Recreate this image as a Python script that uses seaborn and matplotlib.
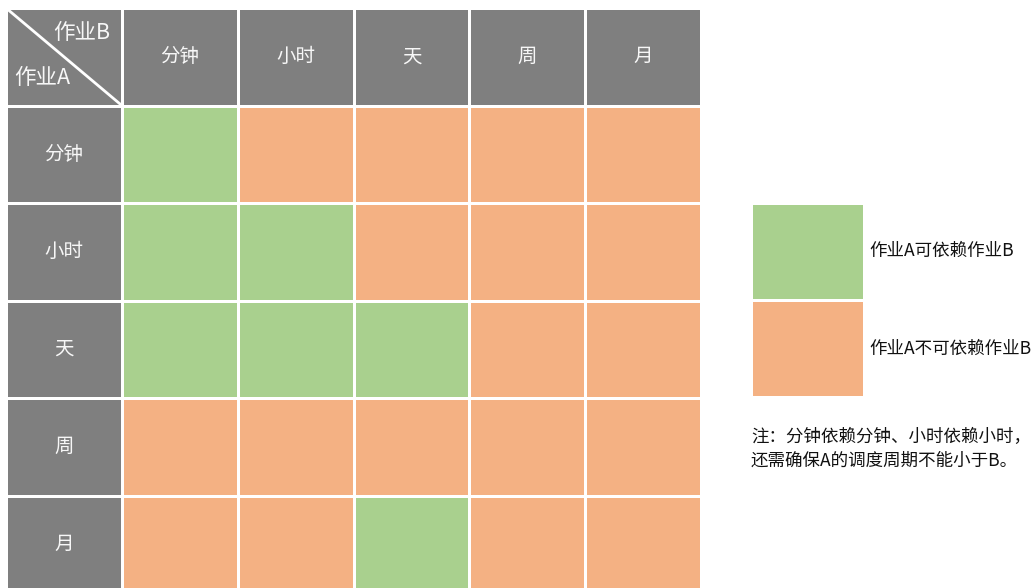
import numpy as np
import matplotlib
matplotlib.use("Agg")
import matplotlib.pyplot as plt
from matplotlib.colors import ListedColormap
import seaborn as sns

sns.set_theme(style="white")
plt.rcParams['font.family'] = ['Noto Sans CJK SC', 'DejaVu Sans']

# Data
periods_b = ["分钟", "小时", "天", "周", "月"]   # columns: 作业B
periods_a = ["分钟", "小时", "天", "周", "月"]   # rows: 作业A
# 1 = 作业A可依赖作业B, 0 = 不可依赖
allowed = [
    [1, 0, 0, 0, 0],
    [1, 1, 0, 0, 0],
    [1, 1, 1, 0, 0],
    [0, 0, 0, 0, 0],
    [0, 0, 1, 0, 0],
]
legend_labels = ["作业A可依赖作业B", "作业A不可依赖作业B"]
note_lines = ["注：分钟依赖分钟、小时依赖小时，", "还需确保A的调度周期不能小于B。"]

GRAY = "#7f7f7f"
GREEN = "#a9d08e"
ORANGE = "#f4b183"
cmap = ListedColormap([GRAY, GREEN, ORANGE])

# Build full grid: header cells = 0, allowed = 1, not allowed = 2
n = len(periods_b)
grid = np.zeros((n + 1, n + 1))
for i in range(n):
    for j in range(n):
        grid[i + 1, j + 1] = 1 if allowed[i][j] == 1 else 2

W, H = 1031, 588
fig = plt.figure(figsize=(W / 100, H / 100), dpi=100)

# main grid axes (pixel coords -> figure fraction)
x0, x1 = 6, 701
y0, y1 = 8, 593
ax = fig.add_axes([x0 / W, 1 - y1 / H, (x1 - x0) / W, (y1 - y0) / H])
sns.heatmap(grid, ax=ax, cmap=cmap, vmin=0, vmax=2, cbar=False,
            linewidths=2, linecolor="white", xticklabels=False, yticklabels=False)
ax.set_xlabel("")
ax.set_ylabel("")

hdr_color = "#f7f7f7"
for j, lab in enumerate(periods_b):
    ax.text(j + 1.5, 0.5, lab, ha="center", va="center", color=hdr_color, fontsize=14)
for i, lab in enumerate(periods_a):
    ax.text(0.5, i + 1.5, lab, ha="center", va="center", color=hdr_color, fontsize=14)

# corner cell
ax.plot([0, 1], [0, 1], color="white", lw=2, solid_capstyle="butt")
ax.text(0.90, 0.26, "作业B", ha="right", va="center", color=hdr_color, fontsize=15.5)
ax.text(0.07, 0.72, "作业A", ha="left", va="center", color=hdr_color, fontsize=15.5)

# legend axes
lx0, lx1 = 751, 864
ly0, ly1 = 203, 397
lax = fig.add_axes([lx0 / W, 1 - ly1 / H, (lx1 - lx0) / W, (ly1 - ly0) / H])
sns.heatmap(np.array([[1], [2]]), ax=lax, cmap=cmap, vmin=0, vmax=2, cbar=False,
            linewidths=2, linecolor="white", xticklabels=False, yticklabels=False)
for k, lab in enumerate(legend_labels):
    fig.text(869 / W, 1 - (251 + 98 * k) / H, lab, ha="left", va="center",
             color="#111111", fontsize=12.6)

for k, line in enumerate(note_lines):
    fig.text(751 / W, 1 - (437 + 24 * k) / H, line, ha="left", va="center",
             color="#111111", fontsize=12.6)

fig.savefig("out.png", dpi=100, facecolor="white")
